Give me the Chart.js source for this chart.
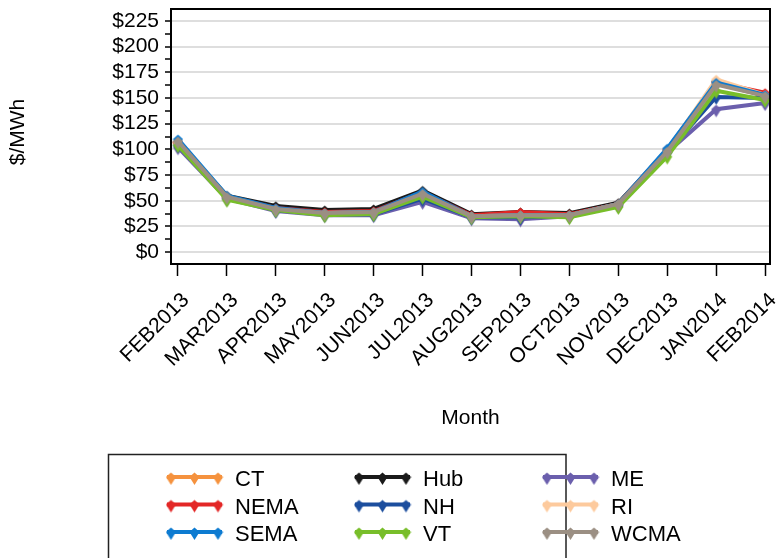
<!DOCTYPE html>
<html>
<head>
<meta charset="utf-8">
<script src="https://cdn.jsdelivr.net/npm/chart.js@4/dist/chart.umd.min.js"></script>
<style>
  html, body { margin: 0; padding: 0; background: #fff; }
  #wrap { width: 779px; height: 558px; }
</style>
</head>
<body>
<div id="wrap"><canvas id="priceChart" width="779" height="558"></canvas></div>
<script>
// ── Data ─────────────────────────────────────────────────────────────────────
const months = ["FEB2013","MAR2013","APR2013","MAY2013","JUN2013","JUL2013","AUG2013",
                "SEP2013","OCT2013","NOV2013","DEC2013","JAN2014","FEB2014"];
const yTickValues = [0,12.5,25,37.5,50,62.5,75,87.5,100,112.5,125,137.5,150,162.5,175,187.5,200,212.5,225];

const zones = ["CT","Hub","ME","NEMA","NH","RI","SEMA","VT","WCMA"];
const ctVals   = [106, 53, 42, 38, 41, 57, 35, 37, 36, 46,  98, 164, 152];
const hubVals  = [107, 55, 45, 41, 42, 60, 37, 39, 38, 48,  99, 166, 152];
const meVals   = [102, 52, 40, 36, 36, 49, 33, 32, 35, 45,  97, 139, 145];
const nemaVals = [107, 54, 43, 39, 40, 58, 36, 39, 37, 47, 100, 165, 155];
const nhVals   = [104, 53, 41, 37, 37, 52, 34, 34, 35, 46,  97, 151, 150];
const riVals   = [107, 54, 42, 38, 39, 57, 35, 36, 36, 47,  99, 168, 153];
const semaVals = [110, 55, 43, 38, 39, 59, 35, 36, 36, 47, 101, 165, 153];
const vtVals   = [104, 51, 41, 36, 37, 54, 34, 35, 34, 44,  93, 157, 148];
const wcmaVals = [108, 54, 42, 38, 39, 57, 35, 36, 36, 47,  98, 163, 152];

const seriesVals = [ctVals, hubVals, meVals, nemaVals, nhVals, riVals, semaVals, vtVals, wcmaVals];
const COLORS = ["#f5923e","#1a1a1a","#6b5fad","#e32726","#1c4e9e","#fdca9d","#0d7bd1","#78be2a","#9b8f83"];

const FONT = "'Liberation Sans', Arial, sans-serif";

// ── Marker: small kite with a longer lower point ─────────────────────────────
function makeMarker(color) {
  const c = document.createElement("canvas");
  c.width = 11; c.height = 18;
  const g = c.getContext("2d");
  g.fillStyle = color;
  g.beginPath();
  g.moveTo(5.5, 4.5);
  g.lineTo(10.5, 9);
  g.lineTo(5.5, 17);
  g.lineTo(0.5, 9);
  g.closePath();
  g.fill();
  return c;
}
const markers = COLORS.map(makeMarker);

// ── Extra drawing: frame, axis titles, legend ────────────────────────────────
const decorations = {
  id: "decorations",
  afterDraw(chart) {
    const ctx = chart.ctx;
    const a = chart.chartArea;
    ctx.save();
    ctx.strokeStyle = "#000";
    ctx.lineWidth = 2;
    ctx.strokeRect(a.left, a.top, a.right - a.left, a.bottom - a.top);

    ctx.fillStyle = "#000";
    ctx.textAlign = "center";
    ctx.textBaseline = "middle";
    ctx.font = "21px " + FONT;
    ctx.save();
    ctx.translate(18, 132);
    ctx.rotate(-Math.PI / 2);
    ctx.fillText("$/MWh", 0, 0);
    ctx.restore();
    ctx.fillText("Month", (a.left + a.right) / 2, 418);

    // legend box (runs off the bottom like the original)
    ctx.strokeStyle = "#222";
    ctx.lineWidth = 1.5;
    ctx.strokeRect(108.5, 454.5, 457.5, 120);
    ctx.font = "22px " + FONT;
    ctx.textAlign = "left";
    zones.forEach((name, i) => {
      const col = i % 3, row = Math.floor(i / 3);
      const x0 = 167 + col * 188, y = 477 + row * 27.5;
      ctx.strokeStyle = COLORS[i];
      ctx.lineWidth = 4;
      ctx.beginPath();
      ctx.moveTo(x0, y);
      ctx.lineTo(x0 + 55, y);
      ctx.stroke();
      [4, 27.5, 51].forEach(dx => ctx.drawImage(markers[i], x0 + dx - 5.5, y - 9));
      ctx.fillStyle = "#000";
      ctx.fillText(name, x0 + 68, y + 3);
    });
    ctx.restore();
  }
};

// ── Chart ────────────────────────────────────────────────────────────────────
const datasets = zones.map((name, i) => ({
  label: name,
  data: seriesVals[i].map((v, k) => ({ x: k, y: v })),
  borderColor: COLORS[i],
  backgroundColor: COLORS[i],
  borderWidth: 4,
  pointStyle: markers[i],
  pointRadius: 5,
  tension: 0,
  order: zones.length - i,
}));

new Chart(document.getElementById("priceChart"), {
  type: "line",
  data: { datasets },
  plugins: [decorations],
  options: {
    responsive: false,
    animation: false,
    layout: { padding: { left: 0, top: 6, right: 6, bottom: 0 } },
    plugins: { legend: { display: false }, tooltip: { enabled: false } },
    scales: {
      x: {
        type: "linear",
        min: -0.142,
        max: 12.1,
        afterBuildTicks: s => { s.ticks = months.map((m, i) => ({ value: i })); },
        afterFit: s => {
          s.height = 294;
          s.paddingLeft = 0; s.paddingRight = 0; s.paddingTop = 0; s.paddingBottom = 0;
        },
        border: { display: false },
        grid: { drawOnChartArea: false, tickLength: 12, tickColor: "#000", tickWidth: 1.5 },
        ticks: {
          autoSkip: false,
          minRotation: 45,
          maxRotation: 45,
          padding: 12,
          labelOffset: 8,
          color: "#000",
          font: { family: FONT, size: 21 },
          callback: v => months[v] ?? "",
        },
      },
      y: {
        min: -11.5,
        max: 236.5,
        afterBuildTicks: s => { s.ticks = yTickValues.map(v => ({ value: v })); },
        afterFit: s => {
          s.width = 171;
          s.paddingLeft = 0; s.paddingRight = 0; s.paddingTop = 0; s.paddingBottom = 0;
        },
        border: { display: false },
        grid: {
          color: c => (c.tick && c.tick.value % 25 === 0) ? "#dedede" : "rgba(0,0,0,0)",
          lineWidth: 2,
          tickLength: 6,
          tickColor: "#000",
          tickWidth: 1.5,
        },
        ticks: {
          autoSkip: false,
          padding: 6,
          color: "#000",
          font: { family: FONT, size: 21 },
          callback: v => v % 25 === 0 ? "$" + v : "",
        },
      },
    },
  },
});
</script>
</body>
</html>
